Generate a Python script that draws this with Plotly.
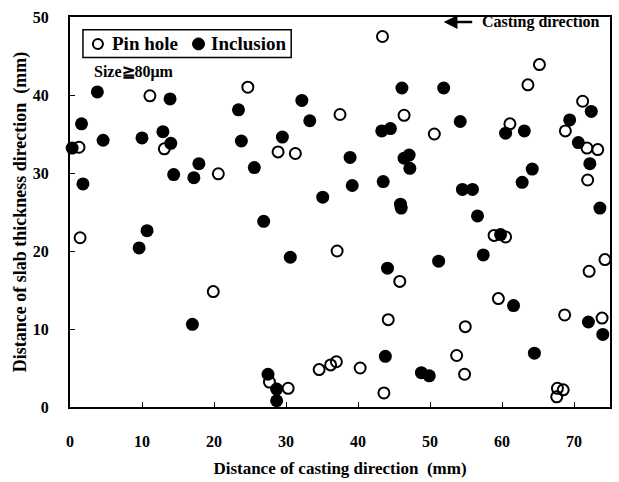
import plotly.graph_objects as go

# Pin hole positions (open circles)
pin_x = [1.25, 1.4, 11.1, 13.1, 19.9, 20.6, 24.7, 27.7, 28.9, 30.3, 31.3, 34.6, 36.2, 37.0,
         37.1, 37.5, 40.3, 43.4, 43.6, 44.2, 45.8, 46.4, 50.6, 53.7, 54.8, 54.9, 58.9, 59.5,
         60.5, 61.1, 63.6, 65.2, 67.6, 67.7, 68.5, 68.7, 68.8, 71.2, 71.8, 71.9, 72.1, 73.3,
         73.9, 74.3]
pin_y = [33.3, 21.7, 39.9, 33.1, 14.8, 29.9, 41.0, 3.2, 32.7, 2.4, 32.5, 4.8, 5.4, 5.8,
         20.0, 37.5, 5.0, 47.5, 1.8, 11.2, 16.1, 37.4, 35.0, 6.6, 4.2, 10.3, 22.0, 13.9,
         21.8, 36.3, 41.3, 43.9, 1.3, 2.4, 2.2, 11.8, 35.4, 39.2, 33.2, 29.1, 17.4, 33.0,
         11.4, 18.9]

# Inclusion positions (filled circles)
inc_x = [0.3, 1.6, 1.8, 3.8, 4.6, 9.6, 10.0, 10.7, 12.9, 13.9, 14.0, 14.4, 17.0, 17.2, 17.9,
         23.4, 23.8, 25.6, 26.9, 27.5, 28.7, 28.7, 29.5, 30.6, 32.2, 33.3, 35.1, 38.9, 39.2,
         43.3, 43.5, 43.8, 44.1, 44.5, 45.9, 46.0, 46.1, 46.4, 47.1, 47.2, 48.8, 49.9, 51.2,
         51.9, 54.2, 54.5, 55.9, 56.6, 57.4, 59.8, 60.5, 61.6, 62.8, 63.1, 64.2, 64.5, 69.4,
         70.6, 72.0, 72.2, 72.4, 73.6, 74.0]
inc_y = [33.2, 36.3, 28.6, 40.4, 34.2, 20.4, 34.5, 22.6, 35.3, 39.5, 33.8, 29.8, 10.6, 29.4, 31.2,
         38.1, 34.1, 30.7, 23.8, 4.2, 2.3, 0.8, 34.6, 19.2, 39.3, 36.7, 26.9, 32.0, 28.4,
         35.4, 28.9, 6.5, 17.8, 35.7, 26.0, 25.5, 40.9, 31.9, 32.3, 30.6, 4.4, 4.0, 18.7,
         40.9, 36.6, 27.9, 27.9, 24.5, 19.5, 22.1, 35.1, 13.0, 28.8, 35.4, 30.5, 6.9, 36.8,
         33.9, 10.9, 31.2, 37.9, 25.5, 9.3]

x_ticks = [0, 10, 20, 30, 40, 50, 60, 70]
y_ticks = [0, 10, 20, 30, 40, 50]

FONT = "Liberation Serif"

fig = go.Figure()
fig.add_trace(go.Scatter(
    x=pin_x, y=pin_y, mode="markers", name="Pin hole", cliponaxis=False,
    marker=dict(symbol="circle-open", size=11, color="black", line=dict(width=2, color="black")),
))
fig.add_trace(go.Scatter(
    x=inc_x, y=inc_y, mode="markers", name="Inclusion", cliponaxis=False,
    marker=dict(symbol="circle", size=13, color="black"),
))

axis_common = dict(
    showgrid=False, zeroline=False, showline=True, linecolor="black", linewidth=2,
    mirror=True, ticks="inside", ticklen=5, tickwidth=1, tickcolor="black",
    tickfont=dict(family=FONT, size=16, color="black", weight="bold"),
)

fig.update_xaxes(
    range=[0, 75], tickvals=x_ticks, ticklabelstandoff=19,
    title=dict(text="<b>Distance of casting direction  (mm)</b>",
               font=dict(family=FONT, size=17, color="black"), standoff=13),
    **axis_common,
)
fig.update_yaxes(
    range=[0, 50], tickvals=y_ticks, ticklabelstandoff=16,
    title=dict(text="<b>Distance of slab thickness direction  (mm)</b>",
               font=dict(family=FONT, size=18, color="black"), standoff=1),
    **axis_common,
)

# Legend box drawn in paper coordinates
fig.add_shape(type="rect", xref="paper", yref="paper",
              x0=0.024, x1=0.4096, y0=0.896, y1=0.967,
              line=dict(color="black", width=1.5), fillcolor="white", layer="above")
fig.add_shape(type="circle", xref="paper", yref="paper",
              xsizemode="pixel", ysizemode="pixel", xanchor=0.0517, yanchor=0.931,
              x0=-5, x1=5, y0=-5, y1=5, line=dict(color="black", width=2), layer="above")
fig.add_shape(type="circle", xref="paper", yref="paper",
              xsizemode="pixel", ysizemode="pixel", xanchor=0.238, yanchor=0.931,
              x0=-6, x1=6, y0=-6, y1=6, line=dict(color="black", width=1),
              fillcolor="black", layer="above")
fig.add_annotation(xref="paper", yref="paper", x=0.0738, y=0.931,
                   xanchor="left", yanchor="middle", showarrow=False,
                   text="<b>Pin hole</b>", font=dict(family=FONT, size=19, color="black"))
fig.add_annotation(xref="paper", yref="paper", x=0.258, y=0.931,
                   xanchor="left", yanchor="middle", showarrow=False,
                   text="<b>Inclusion</b>", font=dict(family=FONT, size=19, color="black"))

fig.add_annotation(
    xref="paper", yref="paper", x=0.04, y=0.86, xanchor="left", yanchor="middle",
    text="<b>Size≧80μm</b>", showarrow=False,
    font=dict(family=FONT, size=16, color="black"),
)
fig.add_annotation(
    xref="paper", yref="paper", x=0.76, y=0.987, xanchor="left", yanchor="middle",
    text="<b>Casting direction</b>", showarrow=False,
    font=dict(family=FONT, size=16, color="black"),
)
fig.add_annotation(
    xref="paper", yref="paper", x=0.692, y=0.987, ax=30, ay=0,
    text="", showarrow=True, arrowhead=2, arrowsize=1.1, arrowwidth=2.5, arrowcolor="black",
)

fig.update_layout(
    width=619, height=482,
    margin=dict(l=70, r=7, t=17, b=71),
    paper_bgcolor="white", plot_bgcolor="white",
    font=dict(family=FONT, color="black"),
    showlegend=False,
)

fig.write_html("out.html")
